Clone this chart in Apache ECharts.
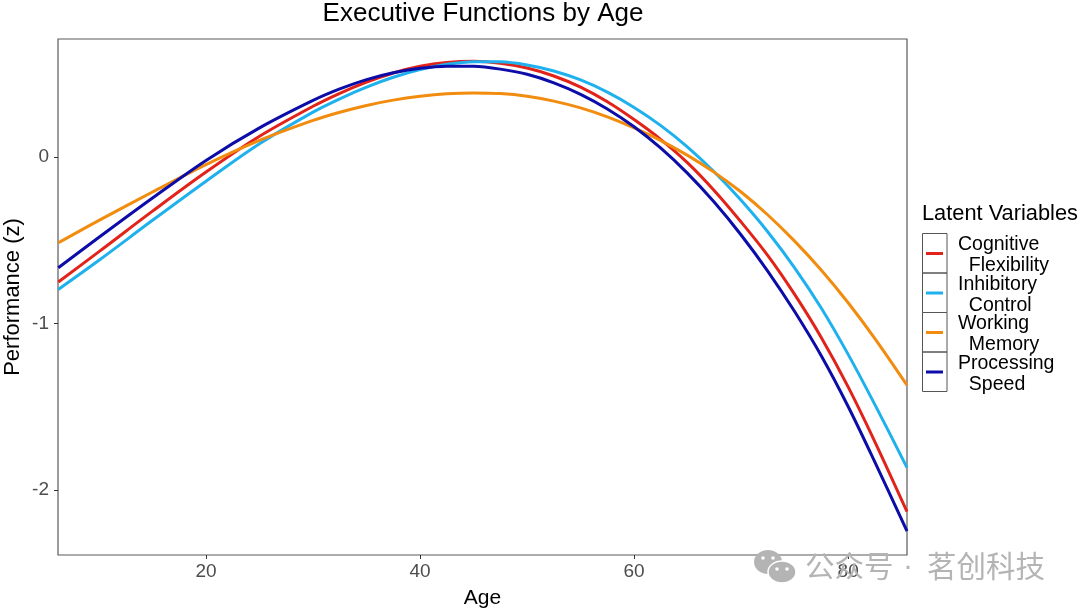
<!DOCTYPE html>
<html>
<head>
<meta charset="utf-8">
<title>Executive Functions by Age</title>
<script src="https://cdn.jsdelivr.net/npm/echarts@6/dist/echarts.min.js"></script>
<style>
  html, body { margin: 0; padding: 0; background: #fff; }
  #main { width: 1080px; height: 610px; }
</style>
</head>
<body>
<div id="main"></div>
<script>
// values
const ages = [6.2, 10, 15, 20, 25, 30, 32.5, 35, 37.5, 40, 42.5, 45, 47.5, 50, 52.5, 55, 57.5, 60, 62.5, 65, 67.5, 70, 72.5, 75, 77.5, 80, 82.5, 85.5];
const cognitiveFlexibility = [-0.75, -0.568, -0.325, -0.09, 0.125, 0.305, 0.383, 0.45, 0.505, 0.545, 0.568, 0.575, 0.564, 0.535, 0.487, 0.42, 0.332, 0.225, 0.105, -0.035, -0.202, -0.39, -0.592, -0.825, -1.085, -1.38, -1.71, -2.13];
const inhibitoryControl = [-0.795, -0.62, -0.38, -0.145, 0.08, 0.27, 0.35, 0.42, 0.479, 0.525, 0.557, 0.573, 0.572, 0.553, 0.517, 0.463, 0.39, 0.298, 0.189, 0.06, -0.09, -0.26, -0.45, -0.665, -0.908, -1.185, -1.487, -1.865];
const workingMemory = [-0.515, -0.38, -0.21, -0.045, 0.1, 0.22, 0.269, 0.31, 0.342, 0.365, 0.38, 0.385, 0.381, 0.365, 0.336, 0.295, 0.241, 0.175, 0.099, 0.01, -0.092, -0.21, -0.348, -0.505, -0.68, -0.875, -1.09, -1.37];
const processingSpeed = [-0.665, -0.482, -0.246, -0.02, 0.175, 0.34, 0.409, 0.465, 0.506, 0.533, 0.546, 0.545, 0.528, 0.497, 0.446, 0.377, 0.289, 0.182, 0.053, -0.098, -0.272, -0.468, -0.686, -0.928, -1.195, -1.498, -1.832, -2.246];
const xTicks = [20, 40, 60, 80];
const yTicks = [-2, -1, 0];
const seriesNames = ["Cognitive\n  Flexibility", "Inhibitory\n  Control", "Working\n  Memory", "Processing\n  Speed"];
const seriesColors = ["#e2231a", "#1fb1ee", "#f28c0f", "#0c0ca8"];
const seriesValues = [cognitiveFlexibility, inhibitoryControl, workingMemory, processingSpeed];

const fontName = '"Liberation Sans", Arial, sans-serif';
const markFont = '"Noto Sans CJK SC"';
const markColor = "#b4b4b4";
const chart = echarts.init(document.getElementById("main"));

// boxes behind the legend keys
const legendBoxes = seriesNames.map((name, i) => ({
  type: "rect",
  shape: { x: 922.5, y: 233.5 + i * 39.5, width: 24.5, height: 39.5 },
  style: { fill: "none", stroke: "#555", lineWidth: 1 },
  z: 1,
}));

chart.setOption({
  animation: false,
  backgroundColor: "#fff",
  textStyle: { fontFamily: fontName },
  title: {
    text: "Executive Functions by Age",
    left: 478,
    top: -4,
    textAlign: "center",
    textStyle: { fontSize: 26, fontWeight: "normal", color: "#000", fontFamily: fontName },
  },
  grid: {
    left: 58,
    right: 173,
    top: 39,
    bottom: 55,
    outerBoundsMode: "none",
    show: true,
    borderColor: "#5a5a5a",
    borderWidth: 1.2,
    backgroundColor: "#fff",
  },
  xAxis: {
    type: "value",
    min: 6.17,
    max: 85.5,
    name: "Age",
    nameLocation: "middle",
    nameGap: 31,
    nameMoveOverlap: false,
    nameTextStyle: { fontSize: 21, color: "#000", fontFamily: fontName, padding: [2, 0, 0, 0] },
    splitLine: { show: false },
    axisLine: { show: false, onZero: false },
    axisTick: { show: true, customValues: xTicks, length: 4, lineStyle: { color: "#333" } },
    axisLabel: { customValues: xTicks, fontSize: 19, color: "#4d4d4d", margin: 7, fontFamily: fontName },
  },
  yAxis: {
    type: "value",
    min: -2.39,
    max: 0.709,
    name: "Performance (z)",
    nameLocation: "middle",
    nameGap: 34,
    nameMoveOverlap: false,
    nameTextStyle: { fontSize: 22, color: "#000", fontFamily: fontName },
    splitLine: { show: false },
    axisLine: { show: false, onZero: false },
    axisTick: { show: true, customValues: yTicks, length: 4, lineStyle: { color: "#333" } },
    axisLabel: { customValues: yTicks, fontSize: 19, color: "#4d4d4d", margin: 9, padding: [8, 0, 0, 0], fontFamily: fontName },
  },
  legend: {
    orient: "vertical",
    left: 926,
    top: 234.5,
    padding: 0,
    itemGap: -2.5,
    itemWidth: 17,
    itemHeight: 7,
    // bar sits above the middle of its 7px box, the labels need to hang lower than the key
    icon: "path://M0 0H17V3H0Z M0 7H0.01V7H0Z",
    selectedMode: false,
    data: seriesNames,
    textStyle: {
      fontSize: 19.5,
      lineHeight: 21,
      color: "#000",
      fontFamily: fontName,
      padding: [0, 0, 0, 10],
    },
  },
  graphic: [
    ...legendBoxes,
    {
      type: "text",
      left: 922,
      top: 203,
      style: { text: "Latent Variables", fontSize: 21.8, fill: "#000", fontFamily: fontName },
    },
    // watermark
    { type: "text", left: 805, top: 551, z: 20, style: { text: "公众号", fontSize: 29.5, fill: markColor, fontFamily: markFont } },
    { type: "text", left: 903, top: 552, z: 20, style: { text: "·", fontSize: 30, fill: markColor, fontFamily: fontName } },
    { type: "text", left: 927, top: 551, z: 20, style: { text: "茗创科技", fontSize: 29.5, fill: markColor, fontFamily: markFont } },
    { type: "ellipse", shape: { cx: 768, cy: 562, rx: 14, ry: 12 }, style: { fill: markColor }, z: 20 },
    { type: "ellipse", shape: { cx: 782, cy: 572, rx: 14, ry: 11 }, style: { fill: markColor, stroke: "#fff", lineWidth: 1.5 }, z: 21 },
    { type: "circle", shape: { cx: 763, cy: 558, r: 1.8 }, style: { fill: "#fff" }, z: 21 },
    { type: "circle", shape: { cx: 773, cy: 558, r: 1.8 }, style: { fill: "#fff" }, z: 21 },
    { type: "circle", shape: { cx: 777, cy: 569, r: 1.8 }, style: { fill: "#fff" }, z: 22 },
    { type: "circle", shape: { cx: 787, cy: 569, r: 1.8 }, style: { fill: "#fff" }, z: 22 },
  ],
  series: seriesNames.map((name, i) => ({
    name: name,
    type: "line",
    data: ages.map((age, j) => [age, seriesValues[i][j]]),
    smooth: 0.33,
    showSymbol: false,
    color: seriesColors[i],
    lineStyle: { width: 3, color: seriesColors[i] },
    z: 5,
  })),
});
</script>
</body>
</html>
